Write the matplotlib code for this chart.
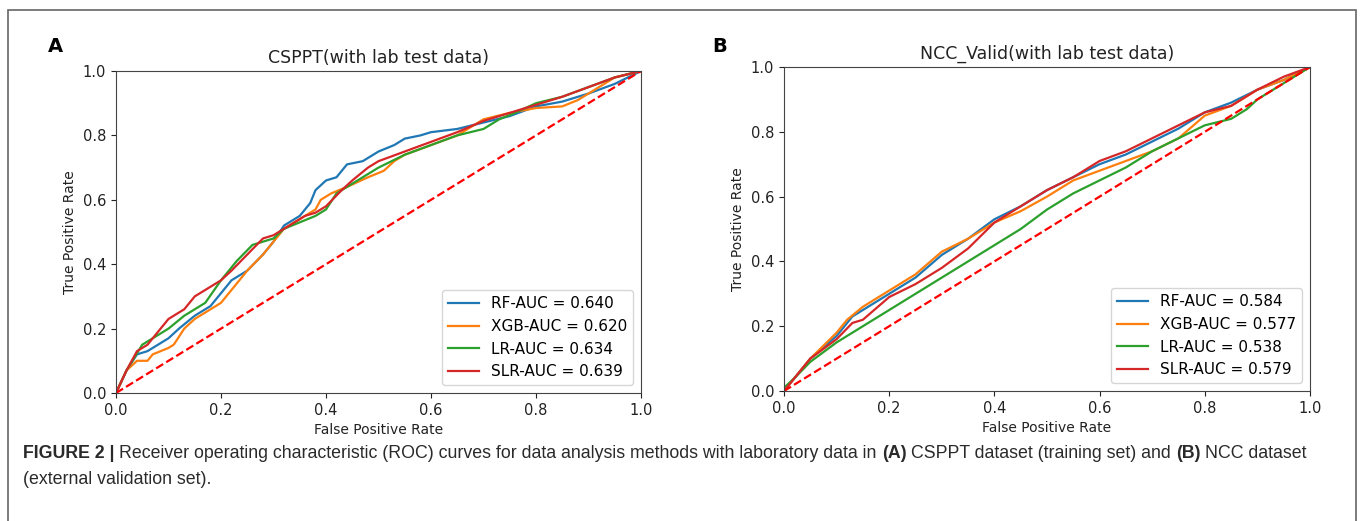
import numpy as np
import matplotlib
matplotlib.use('Agg')
import matplotlib.pyplot as plt
from matplotlib.patches import Rectangle

# ROC points, panel A (CSPPT)
a_rf_fpr = [0, 0.02, 0.04, 0.06, 0.08, 0.10, 0.12, 0.15, 0.18, 0.20, 0.22, 0.25, 0.28, 0.30, 0.32, 0.35, 0.37, 0.38, 0.40, 0.42, 0.44, 0.47, 0.50, 0.53, 0.55, 0.58, 0.60, 0.65, 0.70, 0.75, 0.80, 0.85, 0.90, 0.95, 1.0]
a_rf_tpr = [0, 0.07, 0.12, 0.13, 0.15, 0.17, 0.20, 0.24, 0.27, 0.31, 0.35, 0.38, 0.43, 0.47, 0.52, 0.55, 0.59, 0.63, 0.66, 0.67, 0.71, 0.72, 0.75, 0.77, 0.79, 0.80, 0.81, 0.82, 0.84, 0.86, 0.89, 0.905, 0.93, 0.96, 1.0]
a_xgb_fpr = [0, 0.02, 0.04, 0.06, 0.07, 0.10, 0.11, 0.13, 0.15, 0.18, 0.20, 0.22, 0.25, 0.28, 0.30, 0.32, 0.35, 0.38, 0.39, 0.41, 0.44, 0.48, 0.51, 0.53, 0.55, 0.60, 0.65, 0.70, 0.75, 0.80, 0.85, 0.88, 0.92, 0.95, 1.0]
a_xgb_tpr = [0, 0.07, 0.10, 0.10, 0.12, 0.14, 0.15, 0.20, 0.23, 0.26, 0.28, 0.32, 0.38, 0.43, 0.47, 0.51, 0.54, 0.57, 0.60, 0.62, 0.64, 0.67, 0.69, 0.72, 0.74, 0.77, 0.80, 0.85, 0.87, 0.885, 0.89, 0.91, 0.95, 0.98, 1.0]
a_lr_fpr = [0, 0.02, 0.05, 0.08, 0.10, 0.13, 0.17, 0.20, 0.23, 0.26, 0.30, 0.32, 0.35, 0.38, 0.40, 0.42, 0.45, 0.50, 0.55, 0.60, 0.65, 0.70, 0.73, 0.76, 0.80, 0.85, 0.90, 0.95, 1.0]
a_lr_tpr = [0, 0.07, 0.15, 0.18, 0.20, 0.24, 0.28, 0.35, 0.41, 0.46, 0.48, 0.51, 0.53, 0.55, 0.57, 0.62, 0.65, 0.70, 0.74, 0.77, 0.80, 0.82, 0.85, 0.87, 0.90, 0.92, 0.95, 0.98, 1.0]
a_slr_fpr = [0, 0.02, 0.04, 0.06, 0.08, 0.10, 0.13, 0.15, 0.17, 0.20, 0.22, 0.25, 0.28, 0.30, 0.33, 0.36, 0.38, 0.40, 0.43, 0.45, 0.48, 0.50, 0.55, 0.60, 0.65, 0.70, 0.75, 0.80, 0.85, 0.90, 0.95, 1.0]
a_slr_tpr = [0, 0.07, 0.13, 0.15, 0.19, 0.23, 0.26, 0.30, 0.32, 0.35, 0.38, 0.43, 0.48, 0.49, 0.52, 0.55, 0.56, 0.58, 0.63, 0.66, 0.70, 0.72, 0.75, 0.78, 0.81, 0.845, 0.87, 0.895, 0.92, 0.95, 0.98, 1.0]

# panel B (NCC_Valid)
b_rf_fpr = [0, 0.05, 0.10, 0.13, 0.15, 0.20, 0.25, 0.30, 0.35, 0.40, 0.45, 0.50, 0.55, 0.60, 0.65, 0.70, 0.75, 0.80, 0.85, 0.90, 0.95, 1.0]
b_rf_tpr = [0, 0.10, 0.17, 0.23, 0.25, 0.30, 0.35, 0.42, 0.47, 0.53, 0.57, 0.62, 0.66, 0.70, 0.73, 0.77, 0.81, 0.86, 0.89, 0.93, 0.96, 1.0]
b_xgb_fpr = [0, 0.05, 0.10, 0.12, 0.15, 0.20, 0.25, 0.30, 0.35, 0.40, 0.45, 0.50, 0.55, 0.60, 0.65, 0.70, 0.75, 0.80, 0.85, 0.90, 0.95, 1.0]
b_xgb_tpr = [0, 0.10, 0.18, 0.22, 0.26, 0.31, 0.36, 0.43, 0.47, 0.52, 0.555, 0.60, 0.65, 0.68, 0.71, 0.74, 0.78, 0.85, 0.88, 0.93, 0.96, 1.0]
b_lr_fpr = [0, 0.02, 0.05, 0.10, 0.15, 0.20, 0.25, 0.30, 0.35, 0.40, 0.45, 0.50, 0.55, 0.60, 0.65, 0.70, 0.75, 0.80, 0.85, 0.88, 0.90, 0.95, 1.0]
b_lr_tpr = [0.01, 0.04, 0.09, 0.15, 0.20, 0.25, 0.30, 0.35, 0.40, 0.45, 0.50, 0.56, 0.61, 0.65, 0.69, 0.74, 0.78, 0.82, 0.84, 0.87, 0.90, 0.95, 1.0]
b_slr_fpr = [0, 0.05, 0.10, 0.13, 0.15, 0.20, 0.25, 0.30, 0.35, 0.40, 0.45, 0.50, 0.55, 0.60, 0.65, 0.70, 0.75, 0.80, 0.85, 0.90, 0.95, 1.0]
b_slr_tpr = [0, 0.10, 0.16, 0.21, 0.22, 0.29, 0.33, 0.38, 0.44, 0.52, 0.57, 0.62, 0.66, 0.71, 0.74, 0.78, 0.82, 0.86, 0.88, 0.93, 0.97, 1.0]

models = ['RF', 'XGB', 'LR', 'SLR']
auc_a = ['0.640', '0.620', '0.634', '0.639']
auc_b = ['0.584', '0.577', '0.538', '0.579']
colors = ['#1f77b4', '#ff7f0e', '#2ca02c', '#d62728']

# caption pieces: (text, bold)
caption_line1 = [('FIGURE 2 |', True),
                 ('Receiver operating characteristic (ROC) curves for data analysis methods with laboratory data in', False),
                 ('(A)', True), ('CSPPT dataset (training set) and', False),
                 ('(B)', True), ('NCC dataset', False)]
caption_line2 = '(external validation set).'

W, H = 1360, 521
fig = plt.figure(figsize=(W / 100, H / 100), dpi=100)

# outer frame of the figure box
fig.patches.append(Rectangle((8 / W, -0.05), 1348 / W, 1 - 10 / H + 0.05,
                             transform=fig.transFigure, fill=False,
                             edgecolor='#666666', lw=1.2))


def roc_panel(ax, curves, aucs, title):
    for (fpr, tpr), name, auc, c in zip(curves, models, aucs, colors):
        ax.plot(fpr, tpr, color=c, lw=1.6, label=f'{name}-AUC = {auc}')
    ax.plot([0, 1], [0, 1], color='red', ls='--', lw=1.6)
    ax.set_xlim(0, 1)
    ax.set_ylim(0, 1)
    ax.set_xticks(np.arange(0, 1.01, 0.2))
    ax.set_yticks(np.arange(0, 1.01, 0.2))
    ax.tick_params(labelsize=10.5, colors='#222222')
    for s in ax.spines.values():
        s.set_color('#444444')
    ax.set_title(title, fontsize=12.5, color='#222222')
    ax.set_xlabel('False Positive Rate', fontsize=10, color='#222222')
    ax.set_ylabel('True Positive Rate', fontsize=10, color='#222222')
    ax.legend(loc='lower right', fontsize=11, handlelength=2.0)


ax1 = fig.add_axes([116 / W, 1 - 393 / H, 525 / W, 322 / H])
roc_panel(ax1, [(a_rf_fpr, a_rf_tpr), (a_xgb_fpr, a_xgb_tpr),
                (a_lr_fpr, a_lr_tpr), (a_slr_fpr, a_slr_tpr)],
          auc_a, 'CSPPT(with lab test data)')

ax2 = fig.add_axes([784 / W, 1 - 391 / H, 526 / W, 324 / H])
roc_panel(ax2, [(b_rf_fpr, b_rf_tpr), (b_xgb_fpr, b_xgb_tpr),
                (b_lr_fpr, b_lr_tpr), (b_slr_fpr, b_slr_tpr)],
          auc_b, 'NCC_Valid(with lab test data)')

fig.text(48 / W, 1 - 46 / H, 'A', fontsize=14, fontweight='bold', va='center')
fig.text(712 / W, 1 - 46 / H, 'B', fontsize=14, fontweight='bold', va='center')

# caption, pieces laid out one after another
cap_kw = dict(fontsize=12.8, family='Liberation Sans', va='center', color='#2a2a2a')
renderer = fig.canvas.get_renderer()
x = 23
space = 4.9
for txt, bold in caption_line1:
    t = fig.text(x / W, 1 - 453 / H, txt, fontweight='bold' if bold else 'normal', **cap_kw)
    x = t.get_window_extent(renderer).x1 + space
fig.text(23 / W, 1 - 479 / H, caption_line2, **cap_kw)

fig.savefig('out.png', dpi=100)
